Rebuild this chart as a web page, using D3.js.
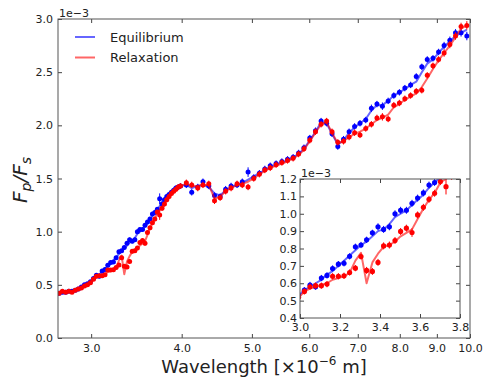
<!DOCTYPE html>
<html><head><meta charset="utf-8">
<script src="https://cdn.jsdelivr.net/npm/d3@7"></script>
<style>
body{margin:0;background:#fff}
svg{display:block}
text{font-family:"DejaVu Sans",sans-serif;fill:#222}
</style>
</head><body>
<svg id="c" width="484" height="377"></svg>
<script>
// wavelength grid (micron)
const wavelength = [
2.710, 2.738, 2.767, 2.795, 2.823,
2.852, 2.880, 2.908, 2.937, 2.965,
2.993, 3.022, 3.050, 3.078, 3.107,
3.135, 3.163, 3.192, 3.220, 3.248,
3.277, 3.305, 3.333, 3.362, 3.390,
3.418, 3.447, 3.475, 3.503, 3.532,
3.560, 3.588, 3.617, 3.645, 3.673,
3.702, 3.730, 3.758, 3.787, 3.815,
3.843, 3.872, 3.900, 3.928, 3.957,
3.985,
4.06, 4.13, 4.21, 4.28, 4.36,
4.44, 4.52, 4.60, 4.68, 4.77,
4.85, 4.94, 5.03, 5.12, 5.21,
5.30, 5.40, 5.50, 5.60, 5.70,
5.80, 5.90, 6.01, 6.12, 6.23,
6.34, 6.45, 6.57, 6.69, 6.81,
6.93, 7.05, 7.18, 7.31, 7.44,
7.57, 7.71, 7.85, 7.99, 8.13,
8.28, 8.43, 8.58, 8.73, 8.89,
9.05, 9.21, 9.38, 9.55, 9.72,
9.90];

// Equilibrium observations (x1e-3)
const eqObs = [
0.42, 0.43, 0.43, 0.44, 0.44,
0.45, 0.46, 0.48, 0.50, 0.51,
0.53, 0.56, 0.59, 0.58, 0.63,
0.645, 0.685, 0.71, 0.715, 0.755,
0.81, 0.82, 0.85, 0.89, 0.925,
0.91, 0.925, 1.00, 1.02, 1.02,
1.06, 1.09, 1.12, 1.165, 1.18,
1.21, 1.31, 1.26, 1.30, 1.33,
1.35, 1.37, 1.39, 1.41, 1.42,
1.43,
1.44, 1.37, 1.42, 1.47, 1.43,
1.34, 1.33, 1.40, 1.43, 1.44,
1.47, 1.56, 1.51, 1.55, 1.59,
1.62, 1.64, 1.66, 1.68, 1.70,
1.74, 1.79, 1.88, 1.95, 2.04,
2.02, 1.92, 1.80, 1.87, 1.94,
1.99, 2.02, 2.05, 2.16, 2.20,
2.18, 2.23, 2.28, 2.31, 2.35,
2.38, 2.46, 2.55, 2.62, 2.63,
2.69, 2.75, 2.80, 2.87, 2.87,
2.84];
const eqErr = [
0.01, 0.01, 0.01, 0.01, 0.01,
0.01, 0.01, 0.012, 0.012, 0.012,
0.015, 0.018, 0.018, 0.018, 0.018,
0.018, 0.018, 0.018, 0.018, 0.018,
0.018, 0.018, 0.018, 0.018, 0.02,
0.02, 0.02, 0.02, 0.02, 0.02,
0.02, 0.02, 0.02, 0.02, 0.02,
0.02, 0.05, 0.025, 0.025, 0.025,
0.025, 0.025, 0.025, 0.025, 0.025,
0.025,
0.03, 0.03, 0.03, 0.03, 0.03,
0.03, 0.03, 0.03, 0.03, 0.03,
0.03, 0.045, 0.03, 0.03, 0.03,
0.03, 0.03, 0.03, 0.03, 0.03,
0.03, 0.03, 0.03, 0.03, 0.03,
0.03, 0.03, 0.03, 0.03, 0.03,
0.03, 0.03, 0.03, 0.035, 0.03,
0.035, 0.03, 0.03, 0.03, 0.03,
0.03, 0.03, 0.03, 0.03, 0.03,
0.03, 0.035, 0.035, 0.035, 0.035,
0.04];

// Relaxation observations (x1e-3)
const relObs = [
0.42, 0.44, 0.43, 0.44, 0.43,
0.45, 0.46, 0.47, 0.49, 0.50,
0.52, 0.553, 0.58, 0.586, 0.586,
0.595, 0.64, 0.64, 0.643, 0.662,
0.687, 0.754, 0.674, 0.668, 0.72,
0.815, 0.82, 0.846, 0.898, 0.917,
0.892, 0.993, 1.037, 1.083, 1.118,
1.185, 1.156, 1.22, 1.26, 1.30,
1.33, 1.36, 1.38, 1.40, 1.42,
1.43,
1.46, 1.44, 1.41, 1.44, 1.45,
1.29, 1.32, 1.38, 1.41, 1.45,
1.44, 1.42, 1.50, 1.54, 1.58,
1.60, 1.63, 1.65, 1.67, 1.69,
1.73, 1.78, 1.86, 1.94, 2.01,
2.04, 1.94, 1.84, 1.85, 1.89,
1.93, 1.91, 1.97, 2.01, 2.07,
2.08, 2.06, 2.19, 2.21, 2.25,
2.28, 2.32, 2.33, 2.47, 2.56,
2.62, 2.68, 2.76, 2.84, 2.93,
2.94];
const relErr = [
0.01, 0.01, 0.01, 0.01, 0.01,
0.01, 0.01, 0.012, 0.012, 0.012,
0.015, 0.018, 0.018, 0.018, 0.018,
0.018, 0.018, 0.018, 0.018, 0.018,
0.018, 0.018, 0.02, 0.02, 0.02,
0.02, 0.02, 0.02, 0.02, 0.02,
0.025, 0.02, 0.02, 0.02, 0.02,
0.02, 0.045, 0.025, 0.025, 0.025,
0.025, 0.025, 0.025, 0.025, 0.025,
0.025,
0.03, 0.03, 0.03, 0.03, 0.03,
0.03, 0.03, 0.03, 0.03, 0.03,
0.03, 0.03, 0.03, 0.03, 0.03,
0.03, 0.03, 0.03, 0.03, 0.03,
0.03, 0.03, 0.03, 0.03, 0.03,
0.03, 0.03, 0.03, 0.03, 0.03,
0.03, 0.03, 0.03, 0.03, 0.03,
0.035, 0.03, 0.03, 0.03, 0.03,
0.03, 0.03, 0.03, 0.03, 0.03,
0.03, 0.035, 0.035, 0.035, 0.035,
0.04];

// model spectra (x1e-3)
const eqModel = [
0.42, 0.43, 0.43, 0.44, 0.45,
0.45, 0.46, 0.48, 0.50, 0.51,
0.53, 0.56, 0.58, 0.60, 0.62,
0.65, 0.67, 0.70, 0.73, 0.76,
0.79, 0.82, 0.84, 0.87, 0.90,
0.91, 0.94, 0.98, 1.00, 1.02,
1.05, 1.08, 1.11, 1.15, 1.18,
1.21, 1.24, 1.27, 1.30, 1.33,
1.35, 1.37, 1.39, 1.41, 1.42,
1.43,
1.44, 1.41, 1.43, 1.44, 1.42,
1.36, 1.34, 1.39, 1.42, 1.44,
1.46, 1.49, 1.52, 1.55, 1.58,
1.61, 1.63, 1.65, 1.67, 1.70,
1.73, 1.78, 1.86, 1.94, 2.03,
2.02, 1.92, 1.82, 1.86, 1.93,
1.98, 2.02, 2.06, 2.14, 2.19,
2.19, 2.23, 2.28, 2.31, 2.34,
2.38, 2.41, 2.50, 2.58, 2.62,
2.68, 2.74, 2.79, 2.84, 2.87,
2.90];
const relModel = [
0.42, 0.43, 0.43, 0.44, 0.44,
0.45, 0.46, 0.47, 0.49, 0.50,
0.52, 0.55, 0.57, 0.58, 0.59,
0.60, 0.62, 0.63, 0.64, 0.66,
0.73, 0.775, 0.60, 0.72, 0.77,
0.81, 0.82, 0.84, 0.87, 0.89,
0.91, 0.97, 1.03, 1.08, 1.12,
1.18, 1.20, 1.23, 1.26, 1.30,
1.33, 1.36, 1.38, 1.40, 1.42,
1.43,
1.45, 1.43, 1.43, 1.44, 1.44,
1.31, 1.33, 1.38, 1.41, 1.44,
1.45, 1.47, 1.50, 1.54, 1.57,
1.60, 1.62, 1.64, 1.66, 1.69,
1.72, 1.77, 1.85, 1.93, 2.01,
2.03, 1.93, 1.83, 1.85, 1.89,
1.92, 1.94, 1.97, 2.01, 2.05,
2.07, 2.10, 2.17, 2.20, 2.24,
2.27, 2.30, 2.36, 2.44, 2.53,
2.61, 2.68, 2.75, 2.83, 2.91,
2.94];

const seriesNames = ["Equilibrium", "Relaxation"];
const mainXTicks = [3, 4, 5, 6, 7, 8, 9, 10];
const mainYTicks = [0.0, 0.5, 1.0, 1.5, 2.0, 2.5, 3.0];
const insetXTicks = [3.0, 3.2, 3.4, 3.6, 3.8];
const insetYTicks = [0.4, 0.5, 0.6, 0.7, 0.8, 0.9, 1.0, 1.1, 1.2];

const BLUE = "#0000ff", RED = "#ff0000";

const svg = d3.select("#c");
const M = {l:58, r:470, t:19, b:338};
const I = {l:300, r:460, t:179, b:318};

const x = d3.scaleLog().domain([2.7, 10]).range([M.l, M.r]);
const y = d3.scaleLinear().domain([0, 3]).range([M.b, M.t]);
const xi = d3.scaleLinear().domain([3.0, 3.8]).range([I.l, I.r]);
const yi = d3.scaleLinear().domain([0.4, 1.2]).range([I.b, I.t]);

const defs = svg.append("defs");
defs.append("clipPath").attr("id","clipM").append("rect")
  .attr("x",M.l).attr("y",M.t).attr("width",M.r-M.l).attr("height",M.b-M.t);
defs.append("clipPath").attr("id","clipI").append("rect")
  .attr("x",I.l).attr("y",I.t).attr("width",I.r-I.l).attr("height",I.b-I.t);

const series = [
  {name: seriesNames[0], color: BLUE, obs: eqObs, err: eqErr, model: eqModel},
  {name: seriesNames[1], color: RED, obs: relObs, err: relErr, model: relModel}
];

function drawData(g, xs, ys, r) {
  series.forEach(s => {
    const pts = wavelength.map((w,i) => ({w, v: s.obs[i], e: s.err[i], m: s.model[i]}));
    const line = d3.line().x(d => xs(d.w)).y(d => ys(d.m));
    g.append("path").datum(pts).attr("d", line)
      .attr("fill","none").attr("stroke", s.color).attr("stroke-opacity",0.6)
      .attr("stroke-width",2).attr("stroke-linejoin","round");
    g.append("g").selectAll("line").data(pts).join("line")
      .attr("x1", d => xs(d.w)).attr("x2", d => xs(d.w))
      .attr("y1", d => ys(d.v - d.e)).attr("y2", d => ys(d.v + d.e))
      .attr("stroke", s.color).attr("stroke-width",1);
    g.append("g").selectAll("circle").data(pts).join("circle")
      .attr("cx", d => xs(d.w)).attr("cy", d => ys(d.v)).attr("r", r)
      .attr("fill", s.color);
  });
}

function frame(box, xs, ys, xt, yt, fs, xpad, ypad, tick) {
  const fmt = d3.format(".1f");
  const gb = svg.append("g").attr("transform",`translate(0,${box.b})`)
    .call(d3.axisBottom(xs).tickValues(xt).tickFormat(fmt).tickSizeInner(-tick).tickSizeOuter(0).tickPadding(xpad));
  const gt = svg.append("g").attr("transform",`translate(0,${box.t})`)
    .call(d3.axisTop(xs).tickValues(xt).tickFormat("").tickSizeInner(-tick).tickSizeOuter(0));
  const gl = svg.append("g").attr("transform",`translate(${box.l},0)`)
    .call(d3.axisLeft(ys).tickValues(yt).tickFormat(fmt).tickSizeInner(-tick).tickSizeOuter(0).tickPadding(ypad));
  const gr = svg.append("g").attr("transform",`translate(${box.r},0)`)
    .call(d3.axisRight(ys).tickValues(yt).tickFormat("").tickSizeInner(-tick).tickSizeOuter(0));
  [gb,gt,gl,gr].forEach(g => {
    g.select(".domain").remove();
    g.selectAll(".tick line").attr("stroke","#444");
    g.selectAll("text").attr("font-size", fs).attr("fill","#222")
      .attr("font-family","DejaVu Sans, sans-serif");
  });
  svg.append("rect").attr("x",box.l).attr("y",box.t)
    .attr("width",box.r-box.l).attr("height",box.b-box.t)
    .attr("fill","none").attr("stroke","#555").attr("stroke-width",1);
}

// main panel
svg.append("rect").attr("x",M.l).attr("y",M.t).attr("width",M.r-M.l).attr("height",M.b-M.t).attr("fill","#fff");
drawData(svg.append("g").attr("clip-path","url(#clipM)"), x, y, 2.5);
frame(M, x, y, mainXTicks, mainYTicks, 11, 6, 5, 4);
svg.append("text").attr("x",M.l+1).attr("y",M.t-2).attr("font-size",11).text("1e\u22123");

// legend
series.forEach((s,i) => {
  const ly = 37 + i*20.5;
  svg.append("line").attr("x1",75).attr("x2",95).attr("y1",ly).attr("y2",ly)
    .attr("stroke",s.color).attr("stroke-opacity",0.6).attr("stroke-width",2);
  svg.append("text").attr("x",110).attr("y",ly).attr("dy","0.36em")
    .attr("font-size",13).text(s.name);
});

// inset
svg.append("rect").attr("x",I.l).attr("y",I.t).attr("width",I.r-I.l).attr("height",I.b-I.t).attr("fill","#fff");
drawData(svg.append("g").attr("clip-path","url(#clipI)"), xi, yi, 2.6);
frame(I, xi, yi, insetXTicks, insetYTicks, 11, 5, 3, 4);
svg.append("text").attr("x",I.l+1).attr("y",I.t-2).attr("font-size",11).text("1e\u22123");

// axis labels
const yl = svg.append("text").attr("transform","translate(27,180) rotate(-90)")
  .attr("text-anchor","middle").attr("font-family","DejaVu Serif, serif")
  .attr("font-style","italic").attr("font-size",20);
yl.append("tspan").text("F");
yl.append("tspan").attr("font-size",14).attr("dy",4).text("p");
yl.append("tspan").attr("dy",-4).text("/F");
yl.append("tspan").attr("font-size",14).attr("dy",4).text("s");

const xl = svg.append("text").attr("x",264).attr("y",373)
  .attr("text-anchor","middle").attr("font-size",18);
xl.append("tspan").text("Wavelength [\u00d710");
xl.append("tspan").attr("font-size",12).attr("dy",-8).text("\u22126");
xl.append("tspan").attr("dy",8).text(" m]");
</script>
</body></html>
